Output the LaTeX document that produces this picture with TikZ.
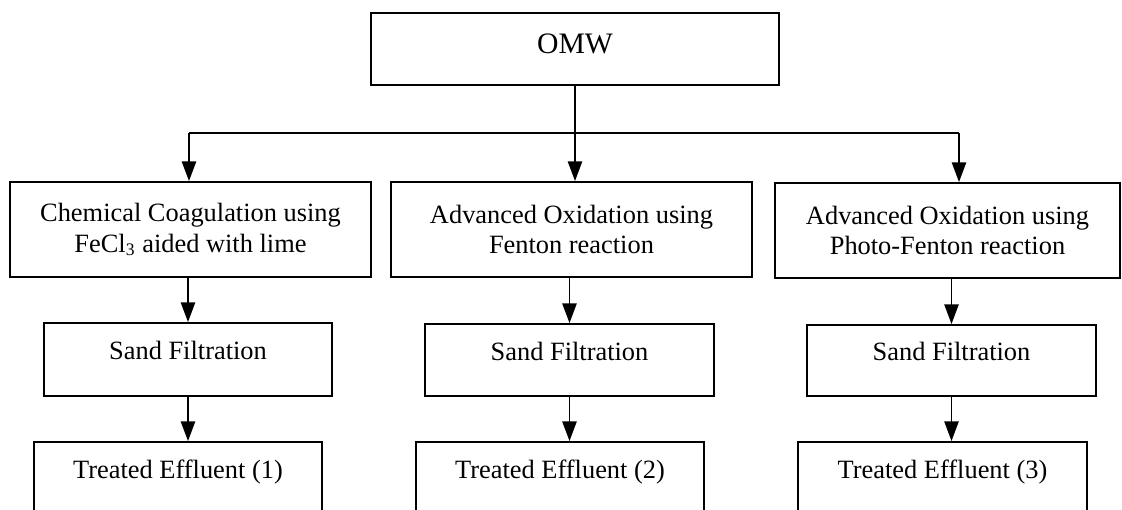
\documentclass[tikz,border=0pt]{standalone}
\usepackage{fontspec}
\setmainfont{Liberation Serif}
\usetikzlibrary{arrows.meta}
\newcommand{\pxu}{0.4545pt}

\begin{document}
\begin{tikzpicture}[x=\pxu, y=-\pxu,
  box/.style={draw, line width=0.85pt, inner sep=0pt, align=center,
              font=\fontsize{12}{14}\selectfont},
  size/.style 2 args={minimum width=#1*\pxu, minimum height=#2*\pxu},
  oneline/.style={text height=13.6pt, text depth=13.6pt},
  >={Triangle[length=9pt, width=6.5pt]}]
\useasboundingbox (0,0) rectangle (1122,509);
\node[box, size={408}{72}, font=\fontsize{13.5}{16}\selectfont,
      text height=13.6pt, text depth=9.9pt] (omw) at (575,49) {OMW};
\node[box, size={361}{95}] (coag) at (190.5,229.5) {Chemical Coagulation using\\FeCl\textsubscript{3} aided with lime};
\node[box, size={361}{95}] (fent) at (571.5,229.5) {Advanced Oxidation using\\Fenton reaction};
\node[box, size={345}{95}] (photo) at (947.5,230.5) {Advanced Oxidation using\\Photo-Fenton reaction};
\node[box, oneline, size={288}{73}] (sand1) at (188,359.5) {Sand Filtration};
\node[box, oneline, size={289}{72}] (sand2) at (569.5,360) {Sand Filtration};
\node[box, oneline, size={289}{71}] (sand3) at (951.5,360.5) {Sand Filtration};
\node[box, oneline, size={288}{73}] (eff1) at (178,478.5) {Treated Effluent (1)};
\node[box, oneline, size={288}{73}] (eff2) at (560,478.5) {Treated Effluent (2)};
\node[box, oneline, size={289}{73}] (eff3) at (942.5,478.5) {Treated Effluent (3)};
% split line below OMW
\coordinate (bl) at (189,133);
\coordinate (br) at (959,133);
\draw[line width=0.85pt] (bl) -- (br);
\draw[->, line width=0.85pt] (omw.south) -- (omw.south |- fent.north);
\draw[->, line width=0.85pt] (bl) -- (bl |- coag.north);
\draw[->, line width=0.85pt] (br) -- (br |- photo.north);
% each branch
\foreach \a/\b/\c in {coag/sand1/eff1, fent/sand2/eff2, photo/sand3/eff3}{
  \draw[->, line width=0.85pt] (\a.south -| \b.north) -- (\b.north);
  \draw[->, line width=0.85pt] (\b.south) -- (\b.south |- \c.north);
}
\end{tikzpicture}
\end{document}
